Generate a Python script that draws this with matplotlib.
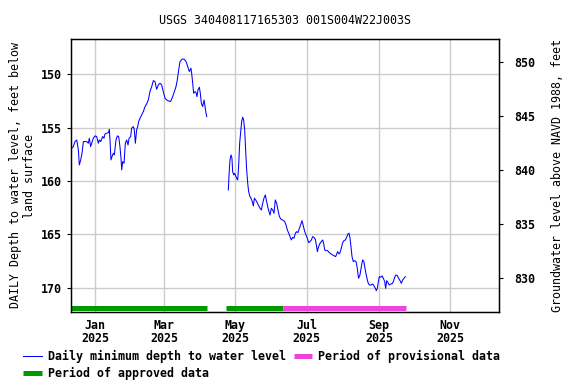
import numpy as np
import pandas as pd
import matplotlib
matplotlib.use("Agg")
from matplotlib import pyplot as plt
import matplotlib.dates as mdates
from matplotlib.lines import Line2D

# daily minimum depth to water (feet below land surface), days counted from 2025-01-01
days_a = [-20.2, -18.8, -17.4, -15.9, -14.5, -13.7, -12.5, -11.4, -10.2, -7.4, -6.0, -5.1, -4.0, -3.1,
          -1.7, -0.3, 1.2, 2.6, 3.5, 4.6, 6.3, 7.4, 8.3, 9.7, 11.2, 12.0, 12.6, 13.4, 14.3, 15.4, 16.3,
          17.7, 18.9, 20.0, 21.1, 22.0, 22.6, 23.4, 24.6, 25.7, 26.9, 28.0, 28.9, 30.3, 31.1, 32.6,
          33.4, 34.3, 35.4, 36.3, 37.1, 38.3, 39.7, 41.1, 42.6, 44.0, 45.4, 46.8, 48.3, 49.7, 51.1,
          52.5, 54.0, 55.4, 56.8, 58.2, 59.7, 61.1, 62.5, 64.5, 66.2, 67.7, 69.1, 70.2, 71.4, 72.5,
          74.5, 76.2, 77.7, 79.1, 80.5, 81.9, 82.5, 83.4, 84.2, 85.4, 86.2, 87.1, 87.9, 89.1, 89.9,
          90.8, 91.9, 93.1, 93.9, 94.8, 95.4]
depth_a = [156.94, 156.78, 156.31, 156.16, 157.09, 158.50, 158.03, 157.41, 156.31, 156.31, 156.47,
           156.00, 156.78, 156.47, 156.00, 155.78, 155.84, 156.47, 156.16, 156.31, 155.84, 156.00,
           155.60, 155.53, 155.47, 155.16, 156.16, 158.03, 157.72, 157.41, 157.56, 156.16, 155.78,
           155.84, 156.78, 157.87, 158.97, 158.19, 158.34, 156.47, 156.16, 156.63, 156.00, 155.84,
           155.06, 154.91, 155.22, 156.47, 155.22, 154.91, 154.44, 154.13, 153.81, 153.50, 153.03,
           152.78, 152.41, 151.63, 151.16, 150.60, 150.69, 151.41, 151.00, 150.85, 151.00, 151.63,
           152.25, 152.41, 152.50, 152.56, 152.10, 151.63, 151.16, 150.53, 149.60, 148.82, 148.57,
           148.60, 148.82, 149.28, 149.75, 149.44, 149.91, 150.85, 151.78, 151.63, 151.72, 152.10,
           151.47, 151.22, 151.78, 152.72, 153.03, 152.41, 152.97, 153.66, 153.97]

days_b = [113.9, 114.5, 115.3, 116.2, 117.0, 117.6, 118.5, 119.3, 120.2, 121.0, 121.9, 122.7, 123.6,
          124.5, 125.3, 126.2, 127.0, 127.9, 128.7, 129.6, 130.5, 131.3, 132.2, 133.3, 134.4, 135.3,
          136.2, 137.3, 138.2, 139.6, 141.0, 142.2, 143.3, 144.4, 145.6, 146.4, 147.6, 148.7, 149.6,
          150.7, 151.9, 153.0, 154.1, 155.3, 156.4, 157.6, 159.0, 160.4, 162.1, 163.3, 164.4, 165.6,
          166.7, 167.8, 169.0, 170.1, 171.3, 172.4, 173.5, 174.7, 175.8, 177.0, 178.1, 179.3, 180.4,
          181.5, 182.7, 183.8, 185.0, 186.1, 187.2, 188.4, 189.5, 190.1, 191.2, 192.4, 193.5, 194.7,
          195.5, 196.4, 197.5, 198.9, 200.4, 201.8, 203.2, 204.7, 205.8, 206.7, 207.5, 208.7, 209.5,
          210.6, 211.8, 212.9, 214.1, 215.2, 216.3, 217.2, 218.1, 218.9, 219.8, 220.9, 222.1, 223.2,
          224.3, 225.4, 226.6, 227.8, 228.9, 230.0, 230.9, 232.3, 233.5, 234.6, 236.0, 237.5, 238.6,
          239.8, 240.6, 241.5, 242.3, 243.2, 244.3, 245.5, 246.6, 247.8, 248.6, 249.5, 250.6, 251.7,
          252.9, 254.0, 255.2, 256.3, 257.5, 258.6, 259.7, 260.9, 262.0, 263.2, 264.3, 265.4]
depth_b = [160.84, 159.44, 158.03, 157.56, 157.88, 159.13, 159.44, 159.28, 159.53, 159.75, 159.91,
           158.66, 156.47, 155.38, 154.44, 154.03, 154.28, 155.22, 157.09, 158.97, 160.22, 161.00,
           161.41, 161.62, 161.94, 162.34, 161.62, 161.78, 161.94, 162.25, 162.56, 162.72, 162.09,
           161.62, 161.31, 161.78, 162.41, 162.87, 163.19, 162.56, 162.72, 163.03, 161.78, 162.09,
           162.72, 163.34, 163.59, 163.66, 163.81, 164.12, 164.59, 164.90, 165.22, 165.53, 165.28,
           165.37, 164.90, 164.75, 164.84, 164.44, 164.12, 163.72, 164.22, 164.75, 165.06, 165.37,
           165.78, 165.69, 165.53, 165.22, 165.28, 165.47, 166.16, 166.62, 166.16, 165.84, 165.69,
           165.53, 165.84, 166.47, 166.53, 166.53, 166.72, 166.84, 166.94, 167.03, 167.09, 166.84,
           166.62, 166.84, 166.72, 166.31, 165.78, 165.59, 165.53, 165.28, 164.97, 164.90, 165.37,
           166.16, 167.09, 167.56, 167.47, 167.56, 168.18, 169.12, 168.81, 168.03, 167.40, 167.56,
           168.18, 168.97, 169.53, 169.75, 169.75, 169.65, 169.84, 170.06, 170.28, 170.06, 169.44,
           168.97, 169.03, 168.90, 169.12, 169.44, 170.06, 169.34, 169.53, 169.75, 169.65, 169.65,
           169.44, 169.03, 168.81, 168.87, 169.12, 169.34, 169.59, 169.28, 169.12, 168.97]

approved = [("2024-12-10", "2025-04-07"), ("2025-04-23", "2025-06-11")]
provisional = [("2025-06-11", "2025-09-24")]

title = "USGS 340408117165303 001S004W22J003S"

plt.rcParams['font.family'] = ['DejaVu Sans Mono']
plt.rcParams['font.weight'] = 'bold'
plt.rcParams['font.size'] = 8.4

base = pd.Timestamp("2025-01-01")
def to_num(days):
    return mdates.date2num(base + pd.to_timedelta(np.array(days), unit="D"))

fig = plt.figure(figsize=(5.76, 3.84), dpi=100)
ax = fig.add_axes([71.3/576, 1-312/384, (499.3-71.3)/576, (312-39)/384])

ax.plot(to_num(days_a), depth_a, color="#0000ff", lw=0.75)
ax.plot(to_num(days_b), depth_b, color="#0000ff", lw=0.75)

bar_y = 171.86
for s, e in approved:
    ax.plot(mdates.date2num([pd.Timestamp(s), pd.Timestamp(e)]), [bar_y, bar_y],
            color="#009900", lw=3.6, solid_capstyle="butt")
for s, e in provisional:
    ax.plot(mdates.date2num([pd.Timestamp(s), pd.Timestamp(e)]), [bar_y, bar_y],
            color="#ee44dd", lw=3.6, solid_capstyle="butt")

ax.set_xlim(to_num([-20.55])[0], to_num([345.9])[0])
ax.set_ylim(172.28, 146.7)
ax.set_yticks([150, 155, 160, 165, 170])
ax.xaxis.set_major_locator(mdates.MonthLocator(bymonth=[1, 3, 5, 7, 9, 11]))
ax.xaxis.set_major_formatter(mdates.DateFormatter("%b\n%Y"))
ax.grid(True, color="#cccccc", lw=1)
ax.set_axisbelow(True)
ax.tick_params(axis="x", length=0, pad=5)
for lbl in ax.get_xticklabels():
    lbl.set_linespacing(1.05)
ax.tick_params(axis="y", length=3, direction="out")
for sp in ax.spines.values():
    sp.set_linewidth(1.0)
ax.set_ylabel("DAILY Depth to water level, feet below\nland surface", linespacing=1.1)
ax.set_title(title, fontsize=8.4, pad=11)

ax2 = ax.twinx()
ax2.set_ylim(826.85, 852.16)
ax2.set_yticks([830, 835, 840, 845, 850])
ax2.tick_params(axis="y", length=3, direction="out", pad=8)
ax2.set_ylabel("Groundwater level above NAVD 1988, feet", labelpad=11)

handles = [Line2D([], [], color="#0000ff", lw=0.75),
           Line2D([], [], color="#009900", lw=3.6, solid_capstyle="butt"),
           Line2D([], [], color="#ee44dd", lw=3.6, solid_capstyle="butt")]
labels = ["Daily minimum depth to water level", "Period of approved data",
          "Period of provisional data"]
fig.legend(handles, labels, ncol=2, loc="upper left", bbox_to_anchor=(23/576, 1-350/384),
           frameon=False, borderpad=0, borderaxespad=0, handlelength=1.6, handletextpad=0.5,
           columnspacing=0.7, labelspacing=0.35)

fig.savefig("out.png", dpi=100)
